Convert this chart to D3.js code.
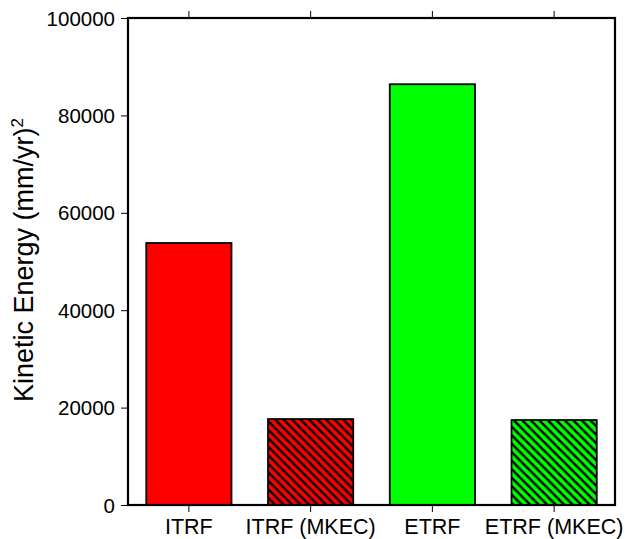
<!DOCTYPE html>
<html><head><meta charset="utf-8">
<script src="https://cdn.jsdelivr.net/npm/d3@7"></script>
<style>body{margin:0;background:#fff}svg{display:block}text{font-family:"Liberation Sans",Arial,sans-serif}</style>
</head><body>
<svg id="c" width="625" height="539"></svg>
<script>
const categories = ["ITRF", "ITRF (MKEC)", "ETRF", "ETRF (MKEC)"];
const values = [53800, 17650, 86400, 17450];
const colors = ["#ff0000", "#ff0000", "#00ff00", "#00ff00"];
const hatched = [false, true, false, true];
const yTicks = [0, 20000, 40000, 60000, 80000, 100000];

const svg = d3.select("#c");
const m = {l: 128, r: 615, t: 18, b: 505};
const xc = d3.scaleBand().domain(categories).range([m.l, m.r]);
const y = d3.scaleLinear().domain([0, 100000]).range([m.b, m.t]);
const barW = xc.bandwidth() * 0.7;

const defs = svg.append("defs");
[["hred","#ff0000"],["hgreen","#00ff00"]].forEach(([id,c])=>{
  const s = 8.5;
  const p = defs.append("pattern").attr("id",id).attr("patternUnits","userSpaceOnUse")
    .attr("width",s).attr("height",s);
  p.append("rect").attr("width",s).attr("height",s).attr("fill", c);
  p.append("path").attr("d",`M-2,-2 L${s+2},${s+2} M${-s-2},-2 L2,${s+2} M${s-2},-2 L${2*s+2},${s+2}`)
    .attr("stroke","#000").attr("stroke-width",2.4);
});

svg.selectAll("rect.bar").data(categories).enter().append("rect").attr("class","bar")
  .attr("x", d => xc(d) + (xc.bandwidth() - barW)/2)
  .attr("width", barW)
  .attr("y", (d,i) => y(values[i]))
  .attr("height", (d,i) => y(0) - y(values[i]))
  .attr("fill", (d,i) => hatched[i] ? (colors[i]==="#ff0000" ? "url(#hred)" : "url(#hgreen)") : colors[i])
  .attr("stroke", "#000").attr("stroke-width", 1.8);

// frame
svg.append("rect").attr("x", m.l).attr("y", m.t).attr("width", m.r - m.l).attr("height", m.b - m.t)
  .attr("fill","none").attr("stroke","#000").attr("stroke-width",2.2);

const ya = svg.append("g").attr("transform",`translate(${m.l},0)`)
  .call(d3.axisLeft(y).tickValues(yTicks).tickFormat(d3.format("d")).tickSize(7).tickPadding(6));
ya.select(".domain").remove();
ya.selectAll("text").style("font-size","20.5px").attr("dy","0.35em");

const xa = svg.append("g").attr("transform",`translate(0,${m.b})`)
  .call(d3.axisBottom(xc).tickSize(7).tickPadding(7));
xa.select(".domain").remove();
xa.selectAll("text").style("font-size","21.5px");

const xt = svg.append("g").attr("transform",`translate(0,${m.t})`)
  .call(d3.axisTop(xc).tickSize(7).tickFormat(""));
xt.select(".domain").remove();

const lab = svg.append("text").attr("transform","translate(33,260) rotate(-90)")
  .attr("text-anchor","middle").style("font-size","27px");
lab.append("tspan").text("Kinetic Energy (mm/yr)");
lab.append("tspan").attr("dy","-10").style("font-size","17px").text("2");
</script>
</body></html>
